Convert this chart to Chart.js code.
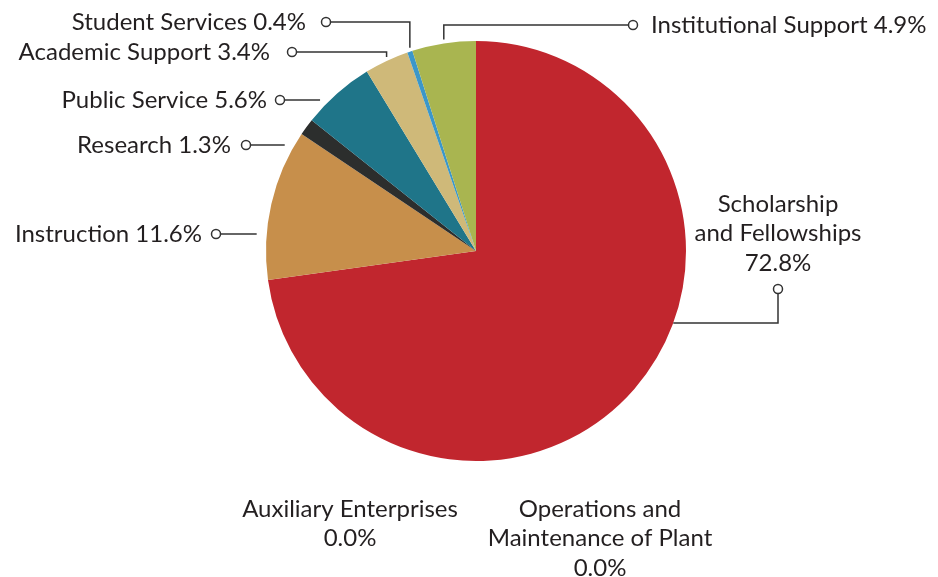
<!DOCTYPE html>
<html>
<head>
<meta charset="utf-8">
<script src="https://cdn.jsdelivr.net/npm/chart.js@4.4.0/dist/chart.umd.min.js"></script>
<style>
  html, body { margin: 0; padding: 0; background: #fff; }
  #wrap { width: 938px; height: 577px; }
</style>
</head>
<body>
<div id="wrap"><canvas id="grafico"></canvas></div>
<script>
// dados
const categorias = [
  'Scholarship and Fellowships',
  'Auxiliary Enterprises',
  'Operations and Maintenance of Plant',
  'Instruction',
  'Research',
  'Public Service',
  'Academic Support',
  'Student Services',
  'Institutional Support'
];
const valores = [72.8, 0.0, 0.0, 11.6, 1.3, 5.6, 3.4, 0.4, 4.9];
const cores = ['#c1262e', '#999999', '#999999', '#c78f4b', '#2c2e2d', '#1f7589', '#cfb979', '#3b97c9', '#a9b550'];

// posicao dos rotulos (layout, nao dados)
const layoutRotulos = [
  { modo: 'baixo', cx: 778, cy: 289, linhaY: 323, tx: 778, ty: 204, alinha: 'center', linhas: ['Scholarship', 'and Fellowships'] },
  { modo: 'texto', tx: 350, ty: 509, alinha: 'center', linhas: ['Auxiliary Enterprises'] },
  { modo: 'texto', tx: 600, ty: 509, alinha: 'center', linhas: ['Operations and', 'Maintenance of Plant'] },
  { modo: 'h', cx: 216, cy: 234, tx: 202, alinha: 'right' },
  { modo: 'h', cx: 246, cy: 145, tx: 231, alinha: 'right' },
  { modo: 'h', cx: 280, cy: 100, tx: 267, alinha: 'right' },
  { modo: 'cotovelo', cx: 292, cy: 52, tx: 270, alinha: 'right' },
  { modo: 'cotovelo', cx: 326, cy: 22, tx: 306, alinha: 'right' },
  { modo: 'cotovelo', cx: 633, cy: 25, tx: 651, alinha: 'left' }
];

const FONTE = '400 24px Lato, "Open Sans", sans-serif';
const COR_TEXTO = '#231f20';
const ENTRELINHA = 29.5;

const pluginRotulos = {
  id: 'rotulos',
  afterDatasetsDraw(chart) {
    const ctx = chart.ctx;
    const arcos = chart.getDatasetMeta(0).data;
    ctx.save();
    ctx.font = FONTE;
    ctx.fillStyle = COR_TEXTO;
    ctx.strokeStyle = '#333';
    ctx.lineWidth = 1.5;

    layoutRotulos.forEach((l, i) => {
      const arco = arcos[i];
      const { x: px, y: py, outerRadius: r } = arco.getProps(['x', 'y', 'outerRadius'], true);
      const meio = (arco.startAngle + arco.endAngle) / 2;
      const pct = valores[i].toFixed(1) + '%';

      // linha guia
      if (l.modo !== 'texto') {
        ctx.beginPath();
        if (l.modo === 'h') {
          const dx = Math.sqrt(r * r - (l.cy - py) ** 2);
          ctx.moveTo(l.cx, l.cy);
          ctx.lineTo(px - dx - 10, l.cy);
        } else if (l.modo === 'cotovelo') {
          const ex = px + r * Math.cos(meio);
          const ey = py - Math.sqrt(r * r - (ex - px) ** 2) - 4;
          ctx.moveTo(l.cx, l.cy);
          ctx.lineTo(ex, l.cy);
          ctx.lineTo(ex, ey);
        } else if (l.modo === 'baixo') {
          const dx = Math.sqrt(r * r - (l.linhaY - py) ** 2);
          ctx.moveTo(l.cx, l.cy);
          ctx.lineTo(l.cx, l.linhaY);
          ctx.lineTo(px + dx, l.linhaY);
        }
        ctx.stroke();

        ctx.beginPath();
        ctx.arc(l.cx, l.cy, 4.5, 0, Math.PI * 2);
        ctx.fillStyle = '#fff';
        ctx.fill();
        ctx.stroke();
        ctx.fillStyle = COR_TEXTO;
      }

      // texto
      ctx.textAlign = l.alinha;
      ctx.textBaseline = 'middle';
      if (l.linhas) {
        const todas = l.linhas.concat([pct]);
        todas.forEach((t, k) => ctx.fillText(t, l.tx, l.ty + k * ENTRELINHA));
      } else {
        ctx.fillText(categorias[i] + ' ' + pct, l.tx, l.cy);
      }
    });
    ctx.restore();
  }
};

new Chart(document.getElementById('grafico').getContext('2d'), {
  type: 'pie',
  data: {
    labels: categorias,
    datasets: [{
      data: valores,
      backgroundColor: cores,
      borderWidth: 0
    }]
  },
  options: {
    responsive: true,
    maintainAspectRatio: false,
    animation: false,
    layout: { padding: { left: 266, right: 252, top: 41, bottom: 116 } },
    plugins: {
      legend: { display: false },
      tooltip: { enabled: false }
    }
  },
  plugins: [pluginRotulos]
});
</script>
</body>
</html>
